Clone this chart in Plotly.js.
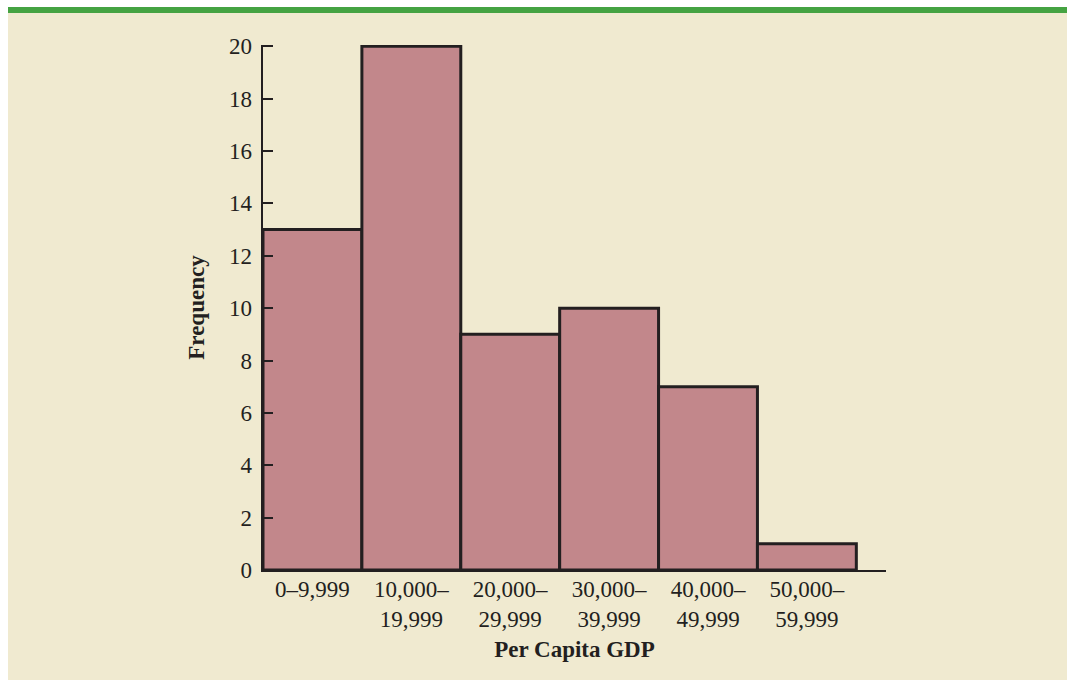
<!DOCTYPE html>
<html>
<head>
<meta charset="utf-8">
<script src="https://cdn.plot.ly/plotly-3.0.1.min.js"></script>
<style>
  html, body { margin: 0; padding: 0; background: #ffffff; width: 1067px; height: 680px; overflow: hidden; }
  #frame { position: absolute; left: 8px; top: 7px; width: 1059px; height: 673px; background: #F0EAD0; border-top: 6px solid #45A342; box-sizing: border-box; }
  #chart { position: absolute; left: 0; top: 0; width: 1059px; height: 667px; }
</style>
</head>
<body>
<div id="frame"><div id="chart"></div></div>
<script>
const categories = ["0–9,999", "10,000–<br>19,999", "20,000–<br>29,999", "30,000–<br>39,999", "40,000–<br>49,999", "50,000–<br>59,999"];
const binIndex = [0, 1, 2, 3, 4, 5];
const frequency = [13, 20, 9, 10, 7, 1];
const yTicks = [0, 2, 4, 6, 8, 10, 12, 14, 16, 18, 20];

const ink = '#231F20';
const serif = 'Liberation Serif, Times New Roman, serif';
const fs = 23;

const trace = {
  type: 'bar',
  x: binIndex,
  y: frequency,
  width: 1,
  marker: { color: '#C2878B', line: { color: ink, width: 3 } },
  hoverinfo: 'skip'
};

const layout = {
  width: 1059,
  height: 667,
  margin: { l: 255, r: 181, t: 32, b: 110 },
  paper_bgcolor: 'rgba(0,0,0,0)',
  plot_bgcolor: 'rgba(0,0,0,0)',
  showlegend: false,
  bargap: 0,
  font: { family: serif, size: fs, color: ink },
  xaxis: {
    range: [-0.5, 5.8],
    tickvals: binIndex,
    ticktext: categories,
    ticks: '',
    ticklabelstandoff: -3,
    showgrid: false,
    zeroline: false,
    showline: true,
    linecolor: ink,
    linewidth: 2,
    tickfont: { family: serif, size: fs, color: ink },
    title: { text: '<b>Per Capita GDP</b>', font: { family: serif, size: fs, color: ink }, standoff: 10 }
  },
  yaxis: {
    range: [0, 20.05],
    tickvals: yTicks,
    ticks: 'inside',
    ticklen: 10,
    tickwidth: 2,
    tickcolor: ink,
    ticklabelstandoff: 4,
    showgrid: false,
    zeroline: false,
    showline: true,
    linecolor: ink,
    linewidth: 2.5,
    tickfont: { family: serif, size: fs, color: ink },
    title: { text: '<b>Frequency</b>', font: { family: serif, size: fs, color: ink }, standoff: 18 }
  }
};

Plotly.newPlot('chart', [trace], layout, { displayModeBar: false, staticPlot: true });
</script>
</body>
</html>
